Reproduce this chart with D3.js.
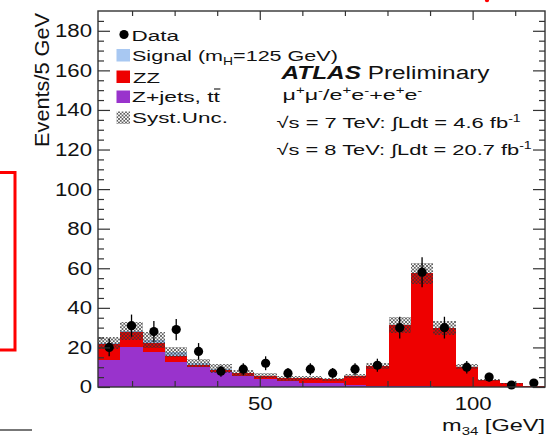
<!DOCTYPE html>
<html><head><meta charset="utf-8">
<script src="https://cdn.jsdelivr.net/npm/d3@7"></script>
<style>body{margin:0;background:#fff}svg{display:block}text{font-family:"Liberation Sans",Arial,sans-serif;fill:#111}</style>
</head><body>
<script>
// ---- data (20 equal bins across the m34 axis range) ----
const xRange = [12, 117];
const zjets  = [13.6, 20.4, 17.8, 12.5, 10.0, 7.6, 5.6, 3.9, 3.0, 2.2, 1.9, 1.2, 0.6, 0.3, 0.3, 0.2, 0.1, 0.1, 0.0, 0.0];
const zz     = [7.9, 7.2, 4.3, 3.3, 1.1, 1.2, 1.3, 1.7, 1.4, 2.2, 2.0, 4.4, 10.2, 31.0, 57.2, 29.5, 10.2, 3.4, 1.9, 0.5];
const signal = [0.7, 0.8, 1.6, 2.0, 0.9, 0.4, 0.2, 0.1, 0, 0, 0, 0, 0, 0, 0, 0, 0, 0, 0, 0];
const systUnc= [3.0, 4.5, 4.2, 2.6, 2.1, 2.3, 1.5, 1.4, 1.2, 1.0, 0.9, 1.0, 1.5, 4.0, 5.3, 3.5, 1.2, 0.5, 0.3, 0.2];
const dataCounts = [20, 31, 28, 29, 18, 8, 9, 12, 7, 9, 7, 9, 11, 30, 58, 30, 10, 5, 1, 2];
const dataErr    = [4.5, 5.6, 5.3, 5.4, 4.2, 2.8, 3.0, 3.5, 2.6, 3.0, 2.6, 3.0, 3.3, 5.5, 7.6, 5.5, 3.2, 2.2, 1.0, 1.4];
const yMax = 190;
const yTicksMajor = [0, 20, 40, 60, 80, 100, 120, 140, 160, 180];
const yTicksMinor = d3.range(5, 190, 5).filter(v => v % 20 !== 0);
const xTicksMajor = [50, 100];
const xTicksMinor = [20, 30, 40, 60, 70, 80, 90, 110];
const legendLabels = ["Data", "Signal", "ZZ", "Z+jets", "Syst.Unc."];
const colors = {signal: "#a8c8f2", zz: "#ee0000", zjets: "#9933cc"};

const W = 558, H = 438;
const svg = d3.select("body").append("svg").attr("width", W).attr("height", H);
const defs = svg.append("defs");
const pat = defs.append("pattern").attr("id", "hatch").attr("patternUnits", "userSpaceOnUse")
  .attr("width", 3.5).attr("height", 3.5);
pat.append("path").attr("d", "M0,0L3.5,3.5M3.5,0L0,3.5").attr("stroke", "#333").attr("stroke-width", 0.7);

const L = 98, R = 545, T = 11, B = 387;
const x = d3.scaleLinear().domain(xRange).range([L, R]);
const y = d3.scaleLinear().domain([0, yMax]).range([B, T]);
const nb = zz.length;
const bw = (xRange[1] - xRange[0]) / nb;
const bins = d3.range(nb).map(i => {
  const lo = xRange[0] + i * bw;
  const a = zjets[i], b = a + zz[i], c = b + signal[i];
  return {i, lo, hi: lo + bw, mid: lo + bw / 2, zj: a, zz: b, tot: c, unc: systUnc[i], d: dataCounts[i], e: dataErr[i]};
});

const hist = svg.append("g");
function val(d, k) { return typeof k === "string" ? d[k] : k(d); }
function layer(key0, key1, fill) {
  hist.selectAll(null).data(bins).enter().append("rect")
    .attr("x", d => x(d.lo)).attr("width", d => x(d.hi) - x(d.lo))
    .attr("y", d => y(val(d, key1)))
    .attr("height", d => Math.max(0, y(val(d, key0)) - y(val(d, key1))))
    .attr("fill", fill).attr("shape-rendering", "crispEdges");
}
layer(() => 0, "zj", colors.zjets);
layer("zj", "zz", colors.zz);
layer("zz", "tot", colors.signal);
layer(d => Math.max(0, d.tot - d.unc), d => d.tot + d.unc, "url(#hatch)");

// data points
const dg = svg.append("g");
dg.selectAll("line").data(bins).enter().append("line")
  .attr("x1", d => x(d.mid)).attr("x2", d => x(d.mid))
  .attr("y1", d => y(d.d + d.e)).attr("y2", d => y(Math.max(0, d.d - d.e)))
  .attr("stroke", "#000").attr("stroke-width", 1.3);
dg.selectAll("circle").data(bins).enter().append("circle")
  .attr("cx", d => x(d.mid)).attr("cy", d => y(d.d)).attr("r", 4.6).attr("fill", "#000");

// axes
function ax(gen, tr) { const g = svg.append("g").attr("transform", tr).call(gen); g.select(".domain").remove(); g.selectAll("line").attr("stroke", "#333").attr("stroke-width", 1.2); return g; }
const yl = ax(d3.axisLeft(y).tickValues(yTicksMajor).tickSize(-12).tickPadding(5).tickFormat(d3.format("d")), `translate(${L},0)`);
yl.selectAll("text").attr("font-size", 18.5).attr("transform", "scale(1.2,1)").attr("fill", "#111").attr("font-family", "Liberation Sans, Arial, sans-serif");
ax(d3.axisLeft(y).tickValues(yTicksMinor).tickSize(-6).tickFormat(""), `translate(${L},0)`);
ax(d3.axisRight(y).tickValues(yTicksMajor).tickSize(-12).tickFormat(""), `translate(${R},0)`);
ax(d3.axisRight(y).tickValues(yTicksMinor).tickSize(-6).tickFormat(""), `translate(${R},0)`);
const xb = ax(d3.axisBottom(x).tickValues(xTicksMajor).tickSize(-10).tickPadding(9.5).tickFormat(d3.format("d")), `translate(0,${B})`);
xb.selectAll("text").attr("font-size", 18.5).attr("transform", "scale(1.2,1)").attr("fill", "#111").attr("font-family", "Liberation Sans, Arial, sans-serif");
ax(d3.axisBottom(x).tickValues(xTicksMinor).tickSize(-6).tickFormat(""), `translate(0,${B})`);
ax(d3.axisTop(x).tickValues(xTicksMajor).tickSize(-9).tickFormat(""), `translate(0,${T})`);
ax(d3.axisTop(x).tickValues(xTicksMinor).tickSize(-5).tickFormat(""), `translate(0,${T})`);
svg.append("rect").attr("x", L).attr("y", T).attr("width", R - L).attr("height", B - T)
  .attr("fill", "none").attr("stroke", "#333").attr("stroke-width", 1.4);

// stretched text helper
function stext(x0, y0, anchor, targetW, size, build, opts = {}) {
  const g = svg.append("g");
  const t = g.append("text").attr("font-size", size).attr("text-anchor", anchor);
  build(t);
  const w = t.node().getBBox().width;
  const sx = targetW / w;
  g.attr("transform", `translate(${x0},${y0})` + (opts.rot ? ` rotate(${opts.rot})` : "") + ` scale(${sx},1)`);
  return {g, t};
}
function sup(t, s, size, shift) { t.append("tspan").attr("font-size", size).attr("baseline-shift", shift).text(s); }

// legend
const lg = svg.append("g");
lg.append("circle").attr("cx", 124).attr("cy", 34.5).attr("r", 4.6).attr("fill", "#000");
const boxFill = [colors.signal, colors.zz, colors.zjets, "url(#hatch)"];
const boxY = [49, 70.5, 90.5, 111.5];
boxFill.forEach((f, k) => lg.append("rect").attr("x", 116.5).attr("y", boxY[k]).attr("width", 13.5).attr("height", 12.5).attr("fill", f));
stext(131.5, 40.5, "start", 48, 15.5, t => t.text(legendLabels[0]));
stext(132, 61, "start", 206, 15.5, t => { t.append("tspan").text(legendLabels[1] + " (m"); sup(t, "H", 10, "-4"); t.append("tspan").attr("baseline-shift", "0").text("=125 GeV)"); });
stext(133, 82.5, "start", 27, 15.5, t => t.text(legendLabels[2]));
const zj = stext(132, 102, "start", 89, 15.5, t => t.text(legendLabels[3] + ", tt"));
{ // overline on the anti-top "t"
  const n = zj.t.node();
  const ext = n.getExtentOfChar(n.getNumberOfChars() - 1);
  zj.g.append("line").attr("x1", ext.x + 0.3).attr("x2", ext.x + ext.width + 0.3)
    .attr("y1", -13).attr("y2", -13).attr("stroke", "#111").attr("stroke-width", 1.1);
}
stext(132, 123, "start", 96, 15.5, t => t.text(legendLabels[4]));

// ATLAS label block
stext(281.5, 79, "start", 210, 19, t => { t.append("tspan").attr("font-weight", "bold").attr("font-style", "italic").text("ATLAS"); t.append("tspan").text(" Preliminary"); });
stext(282.5, 100, "start", 140, 15.5, t => {
  t.append("tspan").text("\u03bc"); sup(t, "+", 10, "6"); t.append("tspan").text("\u03bc"); sup(t, "-", 10, "6");
  t.append("tspan").text("/e"); sup(t, "+", 10, "6"); t.append("tspan").text("e"); sup(t, "-", 10, "6");
  t.append("tspan").text("+e"); sup(t, "+", 10, "6"); t.append("tspan").text("e"); sup(t, "-", 10, "6");
});
stext(276.5, 128, "start", 245, 15.5, t => { t.append("tspan").text("\u221as = 7 TeV: \u222bLdt = 4.6 fb"); sup(t, "-1", 10, "6"); });
stext(276.5, 155, "start", 256, 15.5, t => { t.append("tspan").text("\u221as = 8 TeV: \u222bLdt = 20.7 fb"); sup(t, "-1", 10, "6"); });

// axis titles
stext(545, 431, "end", 103, 16.5, t => { t.append("tspan").text("m"); sup(t, "34", 10.5, "-4"); t.append("tspan").text(" [GeV]"); });
stext(48.5, 13, "end", 134, 19.5, t => t.text("Events/5 GeV"), {rot: -90});

// page decorations
svg.append("path").attr("d", "M0,172.5H15V350H0").attr("fill", "none").attr("stroke", "#f00").attr("stroke-width", 3);
svg.append("circle").attr("cx", 487).attr("cy", 0).attr("r", 2.2).attr("fill", "#f00");
svg.append("line").attr("x1", 0).attr("x2", 32).attr("y1", 430).attr("y2", 430).attr("stroke", "#777").attr("stroke-width", 2);
</script>
</body></html>
